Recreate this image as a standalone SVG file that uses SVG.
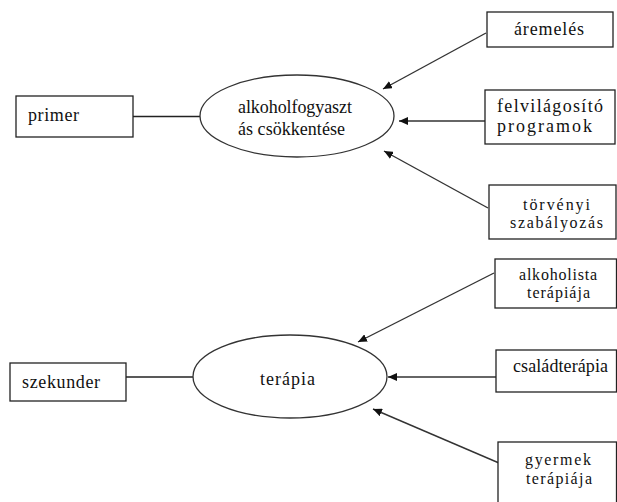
<svg xmlns="http://www.w3.org/2000/svg" width="617" height="502" viewBox="0 0 617 502">
<defs>
<marker id="ah" markerWidth="10" markerHeight="8" refX="9" refY="4" orient="auto" markerUnits="userSpaceOnUse">
<path d="M0,0 L9,4 L0,8 Z" fill="#111"/>
</marker>
<style>
.box{fill:#fff;stroke:#222;stroke-width:1.3}
.ell{fill:#fff;stroke:#333;stroke-width:1.3}
.ln{stroke:#222;stroke-width:1.4;fill:none}
.arr{stroke:#333;stroke-width:1.4;fill:none;marker-end:url(#ah)}
text{fill:#111;font-size:18px;font-family:'Liberation Serif','Times New Roman',serif}
.sm{font-size:16px}
</style>
</defs>
<rect width="617" height="502" fill="#fff"/>
<g id="connectors">
<line class="ln" x1="133" y1="116.5" x2="200" y2="116.5"/>
<line class="ln" x1="126" y1="377" x2="193" y2="377"/>
<line class="arr" x1="486" y1="33" x2="383" y2="89"/>
<line class="arr" x1="485" y1="121" x2="399" y2="121"/>
<line class="arr" x1="488" y1="208" x2="384" y2="151"/>
<line class="arr" x1="494" y1="273" x2="358" y2="342"/>
<line class="arr" x1="496" y1="377" x2="388" y2="377"/>
<line class="arr" x1="499" y1="463" x2="373" y2="409"/>
</g>
<g id="primer">
<rect class="box" x="16" y="96" width="117" height="41"/>
<text x="28" y="121" textLength="51" lengthAdjust="spacing">primer</text>
</g>
<g id="alkoholfogyasztas">
<ellipse class="ell" cx="297" cy="116" rx="97" ry="41"/>
<text x="238" y="113" textLength="114" lengthAdjust="spacing">alkoholfogyaszt</text>
<text x="238" y="135" textLength="107" lengthAdjust="spacing">ás csökkentése</text>
</g>
<g id="aremeles">
<rect class="box" x="487" y="12" width="126" height="35"/>
<text x="514" y="35" textLength="70" lengthAdjust="spacing">áremelés</text>
</g>
<g id="felvilagosito">
<rect class="box" x="485" y="90" width="130" height="54"/>
<text x="497" y="112" textLength="106" lengthAdjust="spacing">felvilágosító</text>
<text x="497" y="132" textLength="95" lengthAdjust="spacing">programok</text>
</g>
<g id="torvenyi">
<rect class="box" x="489" y="185" width="127" height="54"/>
<text class="sm" x="523" y="210" textLength="67" lengthAdjust="spacing">törvényi</text>
<text class="sm" x="510" y="228" textLength="93" lengthAdjust="spacing">szabályozás</text>
</g>
<g id="szekunder">
<rect class="box" x="10" y="363" width="116" height="38"/>
<text x="22" y="388" textLength="78" lengthAdjust="spacing">szekunder</text>
</g>
<g id="terapia">
<ellipse class="ell" cx="290" cy="376.5" rx="97" ry="41.5"/>
<text x="260" y="385" textLength="55" lengthAdjust="spacing">terápia</text>
</g>
<g id="alkoholista">
<rect class="box" x="495" y="259" width="121.5" height="49"/>
<text class="sm" x="519" y="280" textLength="78" lengthAdjust="spacing">alkoholista</text>
<text class="sm" x="527" y="298" textLength="63" lengthAdjust="spacing">terápiája</text>
</g>
<g id="csaladterapia">
<rect class="box" x="496" y="350" width="120.5" height="42"/>
<text x="513" y="372" textLength="95" lengthAdjust="spacing">családterápia</text>
</g>
<g id="gyermek">
<rect class="box" x="498" y="442" width="118.5" height="70"/>
<text class="sm" x="525" y="465" textLength="66" lengthAdjust="spacing">gyermek</text>
<text class="sm" x="526" y="484" textLength="66" lengthAdjust="spacing">terápiája</text>
</g>
</svg>
